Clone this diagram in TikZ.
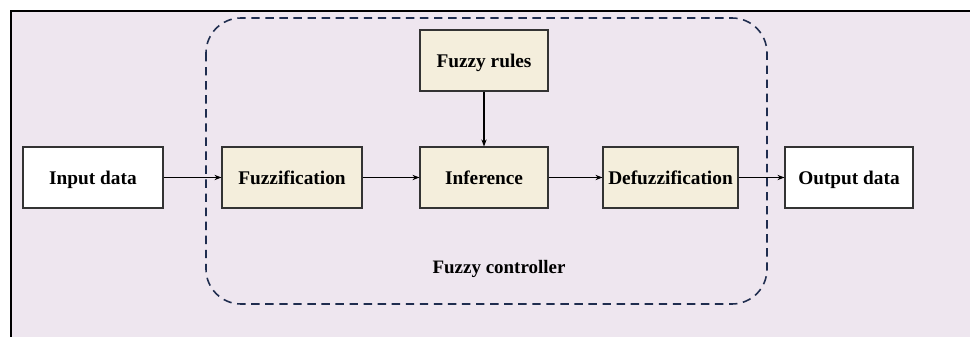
\documentclass[tikz,border=0pt]{standalone}
\usepackage{xcolor}
\usepackage{tikz}
\usepackage{fontspec}
\setmainfont{Liberation Serif}
\usetikzlibrary{arrows.meta}

\definecolor{panelbg}{HTML}{EEE6EF}
\definecolor{blockfill}{HTML}{F4EEDC}
\definecolor{navy}{HTML}{1F2D4F}
\definecolor{edgegray}{HTML}{333333}

\tikzset{
  block/.style={draw=edgegray, line width=0.6pt, fill=blockfill, minimum height=1.22cm,
    inner sep=0pt, text height=2.1ex, text depth=0.34ex,
    font=\fontsize{11}{13}\selectfont\bfseries},
  iobox/.style={block, fill=white},
  flow/.style={line width=0.6pt, -{Stealth[length=4pt,width=3pt]}}
}

\begin{document}
\begin{tikzpicture}[x=0.02cm, y=-0.02cm]
  \useasboundingbox (0,0) rectangle (970,337);
  % background panel
  \fill[panelbg] (11,11) rectangle (970,337);
  \draw[line width=0.8pt] (11,337) -- (11,11) -- (970,11);

  % controller outline
  \draw[navy, line width=0.9pt, dash pattern=on 4.8pt off 3.2pt, rounded corners=0.7cm]
    (206,18) rectangle (767,304);
  \node[font=\fontsize{10.8}{13}\selectfont\bfseries] (ctrl) at (499,269) {Fuzzy controller};

  \node[iobox, minimum width=2.8cm] (input) at (93,177.5) {Input data};
  \node[block, minimum width=2.8cm] (fuzz) at (292,177.5) {Fuzzification};
  \node[block, minimum width=2.56cm] (rules) at (484,60.5) {Fuzzy rules};
  \node[block, minimum width=2.56cm] (infer) at (484,177.5) {Inference};
  \node[block, minimum width=2.7cm] (defuzz) at (670.5,177.5) {Defuzzification};
  \node[iobox, minimum width=2.56cm] (output) at (849,177.5) {Output data};

  \draw[flow] (input) -- (fuzz);
  \draw[flow] (fuzz) -- (infer);
  \draw[flow] (rules) -- (infer);
  \draw[flow] (infer) -- (defuzz);
  \draw[flow] (defuzz) -- (output);
\end{tikzpicture}
\end{document}
